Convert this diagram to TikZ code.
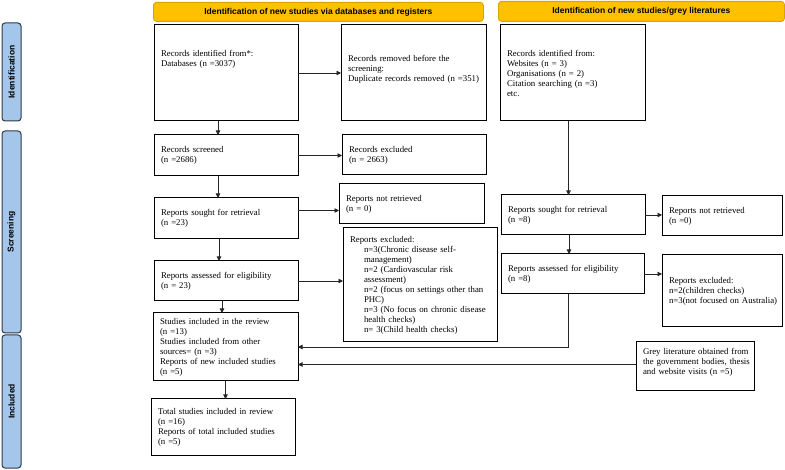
\documentclass[tikz,border=0pt]{standalone}
\usepackage{fontspec}
\setmainfont{Liberation Serif}
\setsansfont{Liberation Sans}
\usetikzlibrary{arrows.meta, calc}

\definecolor{headerColour}{HTML}{FFC000}
\definecolor{headerBorder}{HTML}{D9A300}
\definecolor{phaseColour}{HTML}{A4C6EA}
\definecolor{phaseBorder}{HTML}{2E3A48}
\definecolor{lineColour}{HTML}{262626}

\tikzset{
    box/.style={draw=black, line width=1pt, anchor=north west, align=left,
        inner xsep=7pt, inner ysep=0pt, outer sep=0pt,
        font=\fontsize{8.8}{10}\selectfont},
    sz/.style 2 args={minimum width=#1, minimum height=#2, text width=#1-14pt},
    header/.style={draw=headerBorder, fill=headerColour, rounded corners=3pt,
        anchor=north west, line width=0.8pt, inner sep=0pt,
        font=\sffamily\bfseries\fontsize{8.5}{10}\selectfont},
    phase/.style={draw=phaseBorder, fill=phaseColour, rounded corners=3pt,
        line width=1pt, inner sep=0pt, rotate=90,
        font=\sffamily\bfseries\fontsize{8.5}{10}\selectfont},
    arr/.style={draw=lineColour, line width=0.7pt, -{Triangle[length=4.5pt,width=4.5pt]}}
}

\begin{document}
\begin{tikzpicture}[x=1pt, y=-1pt]
    \useasboundingbox (0,0) rectangle (785,470);

    % Headers
    \node[header, minimum width=330pt, minimum height=19pt] (hdrDb) at (153,2)
        {Identification of new studies via databases and registers};
    \node[header, minimum width=286pt, minimum height=20pt] (hdrGrey) at (498,1)
        {Identification of new studies/grey literatures};

    % Phases
    \node[phase, minimum width=98pt, minimum height=19pt] (phaseIdent) at (11.5,72) {Identification};
    \node[phase, minimum width=202pt, minimum height=19pt] (phaseScreen) at (11.5,232) {Screening};
    \node[phase, minimum width=133pt, minimum height=19pt] (phaseIncl) at (11.5,401.5) {Included};

    % Databases and registers
    \node[box, sz={144pt}{96pt}] (idDb) at (154,25)
        {Records identified from*:\\Databases (n =3037)\\[20pt]\mbox{}};
    \node[box, sz={145pt}{96pt}] (removed) at (341,25)
        {Records removed before the\\screening:\\\mbox{Duplicate records removed (n =351)}\\[0pt]\mbox{}};
    \node[box, sz={144pt}{41pt}] (screened) at (154,135)
        {Records screened\\(n =2686)};
    \node[box, sz={144pt}{40pt}] (excluded) at (342,135)
        {Records excluded\\(n = 2663)};
    \node[box, sz={144pt}{41pt}] (sought) at (154,198)
        {Reports sought for retrieval\\(n =23)};
    \node[box, sz={145pt}{40pt}] (notRetrieved) at (339,184)
        {Reports not retrieved\\(n = 0)};
    \node[box, sz={144pt}{40pt}] (assessed) at (154,261)
        {Reports assessed for eligibility\\(n = 23)};
    \node[box, sz={154pt}{114pt}] (reportsExcl) at (343,228)
        {Reports excluded:\\
        \hspace*{14pt}n=3(Chronic disease self-\\
        \hspace*{14pt}management)\\
        \hspace*{14pt}n=2 (Cardiovascular risk\\
        \hspace*{14pt}assessment)\\
        \hspace*{14pt}\mbox{n=2 (focus on settings other than}\\
        \hspace*{14pt}PHC)\\
        \hspace*{14pt}\mbox{n=3 (No focus on chronic disease}\\
        \hspace*{14pt}health checks)\\
        \hspace*{14pt}n= 3(Child health checks)};
    \node[box, sz={145pt}{68pt}] (included) at (153,313)
        {Studies included in the review\\(n =13)\\Studies included from other\\sources= (n =3)\\Reports of new included studies\\(n =5)};
    \node[box, sz={144pt}{56pt}] (total) at (151,399)
        {Total studies included in review\\(n =16)\\Reports of total included studies\\(n =5)};

    % Grey literature
    \node[box, sz={145pt}{96pt}] (idGrey) at (500,25)
        {Records identified from:\\Websites (n = 3)\\Organisations (n = 2)\\Citation searching (n =3)\\etc.};
    \node[box, sz={144pt}{40pt}] (greySought) at (501,195)
        {Reports sought for retrieval\\(n =8)};
    \node[box, sz={120pt}{40pt}] (greyNotRetrieved) at (662,196)
        {Reports not retrieved\\(n =0)};
    \node[box, sz={143pt}{40pt}] (greyAssessed) at (501,254)
        {Reports assessed for eligibility\\(n =8)};
    \node[box, sz={120pt}{72pt}] (greyExcl) at (662,255)
        {Reports excluded:\\n=2(children checks)\\\mbox{n=3(not focused on Australia)}};
    \node[box, sz={118pt}{49pt}] (greyLit) at (636,342)
        {\mbox{Grey literature obtained from}\\\mbox{the government bodies, thesis}\\and website visits (n =5)\\[0pt]\mbox{}};

    % Draw connectors
    \draw[arr] (idDb.east) -- (removed.west);
    \draw[arr] ([xshift=-8pt]idDb.south) -- ([xshift=-8pt]screened.north);
    \draw[arr] (screened.east) -- (screened.east -| excluded.west);
    \draw[arr] ([xshift=-8pt]screened.south) -- ([xshift=-8pt]sought.north);
    \draw[arr] ([yshift=8pt]sought.east) -- ([yshift=8pt]sought.east -| notRetrieved.west);
    \draw[arr] ([xshift=-7pt]sought.south) -- ([xshift=-7pt]assessed.north);
    \draw[arr] (assessed.east) -- (assessed.east -| reportsExcl.west);
    \draw[arr] ([xshift=-4pt]assessed.south) -- ([xshift=-4pt]assessed.south |- included.north);
    \draw[arr] (included.south) -- (included.south |- total.north);

    \draw[arr] ([xshift=-4pt]idGrey.south) -- ([xshift=-4pt]idGrey.south |- greySought.north);
    \draw[arr] (greySought.east) -- (greySought.east -| greyNotRetrieved.west);
    \draw[arr] ([xshift=-4pt]greySought.south) -- ([xshift=-4pt]greySought.south |- greyAssessed.north);
    \draw[arr] (greyAssessed.east) -- (greyAssessed.east -| greyExcl.west);
    \draw[arr] ([xshift=-4pt]greyAssessed.south) |- (included.east);
    \draw[arr] ([yshift=2pt]greyLit.west) -- ([yshift=2pt]greyLit.west -| included.east);

\end{tikzpicture}
\end{document}
